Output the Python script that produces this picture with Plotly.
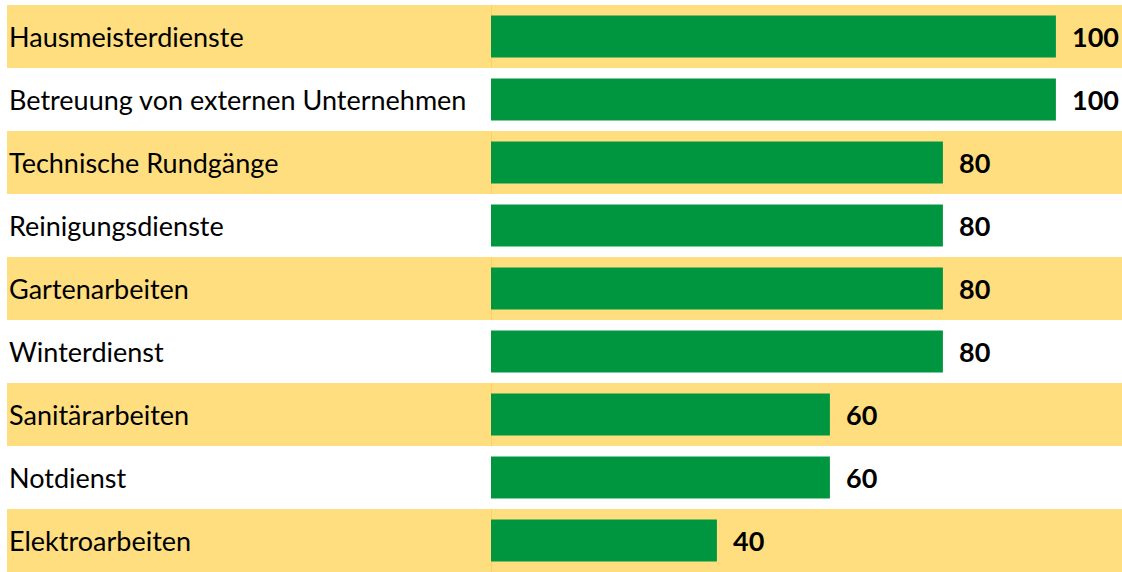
import plotly.graph_objects as go

categories = [
    "Hausmeisterdienste",
    "Betreuung von externen Unternehmen",
    "Technische Rundgänge",
    "Reinigungsdienste",
    "Gartenarbeiten",
    "Winterdienst",
    "Sanitärarbeiten",
    "Notdienst",
    "Elektroarbeiten",
]
values = [100, 100, 80, 80, 80, 80, 60, 60, 40]

BAR = "#00953F"
BAND = "#FFDE80"
EDGE = "#F7C12E"

fig = go.Figure()
fig.add_trace(go.Bar(
    y=categories,
    x=values,
    orientation="h",
    marker=dict(color=BAR, line=dict(width=0)),
    text=values,
    texttemplate="  %{x}",
    textposition="outside",
    textfont=dict(family="Lato", size=27, color="#000000", weight="bold"),
    cliponaxis=False,
    hoverinfo="skip",
))

shapes = []
annotations = []
for i, cat in enumerate(categories):
    if i % 2 == 0:
        shapes.append(dict(type="rect", xref="paper", yref="y",
                           x0=0, x1=1, y0=i - 0.5, y1=i + 0.5,
                           fillcolor=BAND, line=dict(width=0), layer="below"))
        shapes.append(dict(type="line", xref="x", yref="y",
                           x0=0, x1=0, y0=i - 0.5, y1=i + 0.5,
                           line=dict(color=EDGE, width=1), layer="below"))
    annotations.append(dict(xref="paper", yref="y", x=0, y=cat,
                            xanchor="left", yanchor="middle", xshift=0,
                            text=cat, showarrow=False,
                            font=dict(family="Lato", size=27, color="#000000")))

fig.update_layout(
    width=1122, height=572,
    margin=dict(l=7, r=0, t=5, b=0),
    paper_bgcolor="white",
    plot_bgcolor="rgba(0,0,0,0)",
    showlegend=False,
    bargap=0.333,
    shapes=shapes,
    annotations=annotations,
    xaxis=dict(domain=[0.434, 1], range=[0, 111.7], visible=False, fixedrange=True),
    yaxis=dict(range=[8.5, -0.5], visible=False, fixedrange=True,
               categoryorder="array", categoryarray=categories),
)

fig.write_html("out.html",
               config={"displayModeBar": False, "staticPlot": True},
               post_script="document.body.style.margin='0';document.body.style.overflow='hidden';")
